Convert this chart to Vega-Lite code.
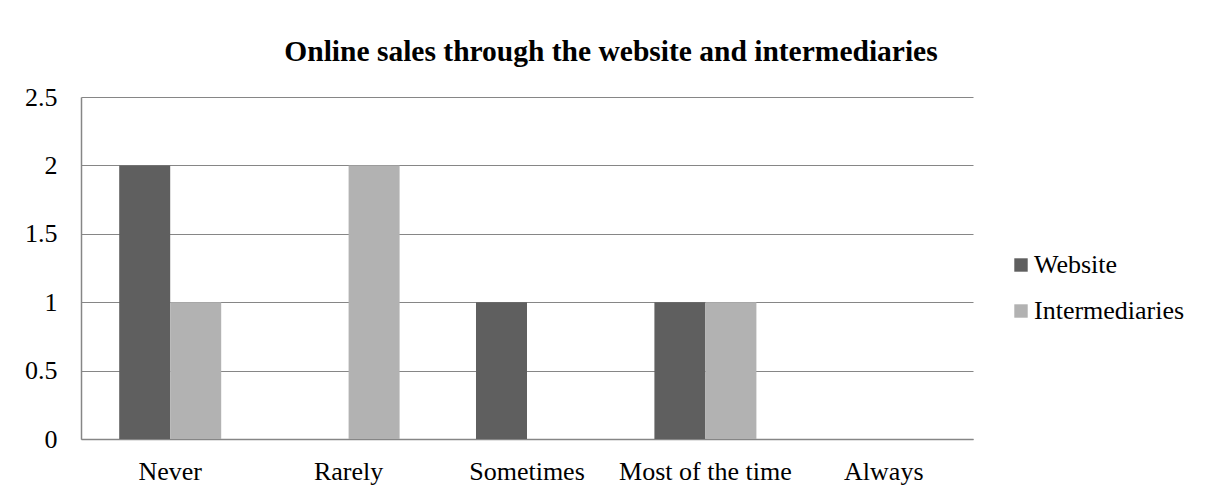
{
  "$schema": "https://vega.github.io/schema/vega-lite/v6.json",
  "width": 892,
  "height": 342,
  "autosize": "none",
  "padding": {"left": 81, "top": 97, "right": 238, "bottom": 58},
  "background": "white",
  "title": {
    "text": "Online sales through the website and intermediaries",
    "font": "Liberation Serif",
    "fontSize": 29.5,
    "fontWeight": "bold",
    "color": "black",
    "anchor": "middle",
    "frame": "group",
    "dx": 84,
    "offset": 17
  },
  "data": {
    "values": [
      {"category": "Never", "series": "Website", "value": 2},
      {"category": "Never", "series": "Intermediaries", "value": 1},
      {"category": "Rarely", "series": "Website", "value": 0},
      {"category": "Rarely", "series": "Intermediaries", "value": 2},
      {"category": "Sometimes", "series": "Website", "value": 1},
      {"category": "Sometimes", "series": "Intermediaries", "value": 0},
      {"category": "Most of the time", "series": "Website", "value": 1},
      {"category": "Most of the time", "series": "Intermediaries", "value": 1},
      {"category": "Always", "series": "Website", "value": 0},
      {"category": "Always", "series": "Intermediaries", "value": 0}
    ]
  },
  "mark": {"type": "bar"},
  "encoding": {
    "x": {
      "field": "category",
      "type": "nominal",
      "sort": ["Never", "Rarely", "Sometimes", "Most of the time", "Always"],
      "scale": {"paddingInner": 0, "paddingOuter": 0},
      "axis": {
        "title": null,
        "labelAngle": 0,
        "labelFont": "Liberation Serif",
        "labelFontSize": 26,
        "labelColor": "black",
        "labelPadding": 19,
        "ticks": false,
        "domainColor": "#868686",
        "domainWidth": 1.5,
        "grid": false
      }
    },
    "xOffset": {
      "field": "series",
      "type": "nominal",
      "sort": ["Website", "Intermediaries"],
      "scale": {"paddingInner": 0, "paddingOuter": 0.749}
    },
    "y": {
      "field": "value",
      "type": "quantitative",
      "scale": {"domain": [0, 2.5], "nice": false},
      "axis": {
        "title": null,
        "values": [0, 0.5, 1, 1.5, 2, 2.5],
        "format": "~g",
        "labelFont": "Liberation Serif",
        "labelFontSize": 26,
        "labelColor": "black",
        "labelPadding": 24,
        "ticks": false,
        "domainColor": "#868686",
        "domainWidth": 1.5,
        "gridColor": "#868686",
        "gridWidth": 1.2
      }
    },
    "color": {
      "field": "series",
      "type": "nominal",
      "sort": ["Website", "Intermediaries"],
      "scale": {"domain": ["Website", "Intermediaries"], "range": ["#5f5f5f", "#b2b2b2"]},
      "legend": {
        "title": null,
        "orient": "none",
        "legendX": 927,
        "legendY": 155,
        "symbolType": "square",
        "symbolSize": 180,
        "symbolStrokeWidth": 0,
        "labelFont": "Liberation Serif",
        "labelFontSize": 26,
        "labelColor": "black",
        "labelOffset": 0,
        "rowPadding": 20
      }
    }
  },
  "config": {
    "view": {"stroke": null}
  }
}
